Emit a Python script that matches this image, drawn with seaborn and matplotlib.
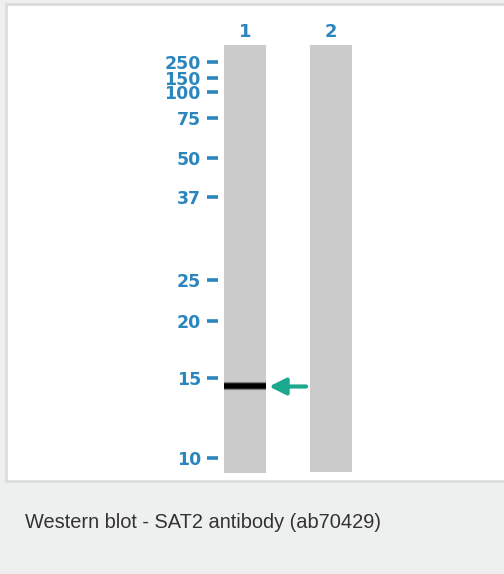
import pandas as pd
import seaborn as sns
import matplotlib.pyplot as plt
from matplotlib.patches import Rectangle

# marker sizes (kDa) and their migration distance from the well (px on the blot)
marker_kda = ["250", "150", "100", "75", "50", "37", "25", "20", "15", "10"]
marker_pos = [16.7, 33, 46.7, 73, 113, 152, 235, 276, 333, 413]

lanes = ["1", "2"]
lane_length = [428, 427]

band_lane = 0
band_pos = 341.5
caption = "Western blot - SAT2 antibody (ab70429)"

blue = "#2b86bd"
teal = "#1aa88f"

sns.set_style("white")
plt.rcParams["font.family"] = ["DejaVu Sans"]

fig = plt.figure(figsize=(5.04, 5.74), dpi=100, facecolor="#eeefef")
W, H = 504, 574

# white panel with light border
fig.patches.append(Rectangle((6 / W, 1 - 481 / H), 1, (481 - 4) / H, transform=fig.transFigure,
                             facecolor="white", edgecolor="#dcdcdc", linewidth=2, zorder=-5))

ax = fig.add_axes([218 / W, 1 - 473 / H, (360 - 218) / W, (473 - 45) / H])
ax.patch.set_alpha(0)

df = pd.DataFrame({"lane": lanes, "length": lane_length})
sns.barplot(data=df, x="lane", y="length", color="#cbcbcb", width=0.488, saturation=1, ax=ax)
for p in ax.patches:
    p.set_edgecolor("none")

ax.set_xlim(-0.314, 1.337)
ax.set_ylim(428, 0)

# band in lane 1
ax.plot([band_lane - 0.244, band_lane + 0.244], [band_pos, band_pos], color="black", lw=6,
        alpha=0.35, solid_capstyle="butt")
ax.plot([band_lane - 0.244, band_lane + 0.244], [band_pos, band_pos], color="black", lw=4,
        solid_capstyle="butt")

# arrow
ax.annotate("", xy=(band_lane + 0.28, band_pos), xytext=(band_lane + 0.71, band_pos),
            arrowprops=dict(arrowstyle="-|>,head_length=1.0,head_width=0.5", color=teal, lw=3,
                            shrinkA=0, shrinkB=0))

ax.set_yticks(marker_pos)
ax.set_yticklabels(marker_kda)
ax.tick_params(axis="y", direction="out", length=8, width=2.6, color=blue, pad=4.3,
               labelcolor=blue, labelsize=12.5, left=True)
ax.xaxis.tick_top()
ax.tick_params(axis="x", length=0, pad=3, labelcolor=blue, labelsize=13)
for lbl in ax.get_xticklabels() + ax.get_yticklabels():
    lbl.set_fontweight("bold")
ax.set_xlabel("")
ax.set_ylabel("")
for s in ax.spines.values():
    s.set_visible(False)

fig.text(25 / W, 1 - 523 / H, caption, ha="left", va="center", fontsize=14.4,
         family="Liberation Sans", color="#333333")

fig.savefig("out.png", dpi=100, facecolor=fig.get_facecolor())
